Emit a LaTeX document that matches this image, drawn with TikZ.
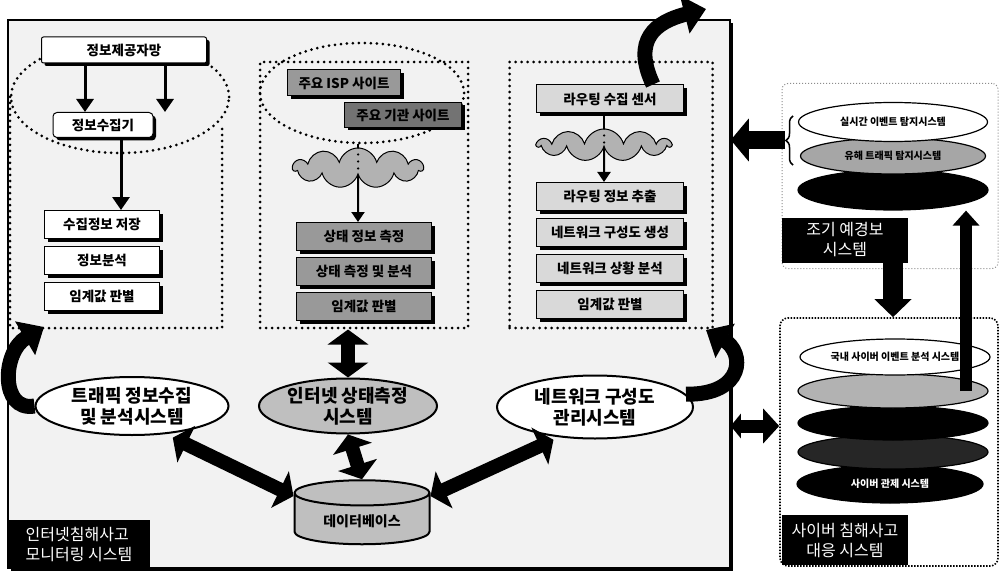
\documentclass[tikz,border=0pt]{standalone}
\usepackage{fontspec}
\setmainfont{Noto Sans CJK KR}
\usetikzlibrary{positioning,shapes.geometric,shapes.symbols,arrows.meta,shadows,decorations.pathreplacing}

\begin{document}
\begin{tikzpicture}[x=1pt, y=-1pt,
  box/.style={
    draw, line width=1pt, fill=white,
    minimum height=28pt, inner sep=1pt,
    font=\fontsize{13.5}{15}\selectfont\bfseries,
    drop shadow={shadow xshift=3pt, shadow yshift=-3pt, fill=black, opacity=1}
  },
  dotbox/.style={draw, line width=3pt, dash pattern=on 0pt off 6pt, line cap=round},
  fog/.style={cloud, cloud puffs=11, aspect=4, draw, line width=1pt, fill=black!30},
  sysell/.style={ellipse, draw, line width=2pt, inner sep=0pt, align=center,
    font=\fontsize{18}{21}\selectfont\bfseries},
  stk/.style={ellipse, draw, line width=1.2pt, inner sep=0pt, minimum width=190pt,
    font=\fontsize{10}{12}\selectfont\bfseries},
  lbl/.style={fill=black, text=white, inner sep=3pt, align=left,
    font=\fontsize{16}{20}\selectfont},
  thinarr/.style={line width=3pt, -{Triangle[length=13pt, width=17pt]}},
  midarr/.style={line width=2pt, -{Triangle[length=10pt, width=13pt]}},
  dblk/.style={line width=14pt, {Triangle[length=15pt, width=40pt]}-{Triangle[length=15pt, width=40pt]}},
  curv/.style={line width=15pt, -{Triangle[length=22pt, width=38pt]}}
]
\useasboundingbox (0,0) rectangle (1000,572);

% --- 모니터링 시스템 틀 ---
\node[draw, line width=1.5pt, fill=black!5, minimum width=722pt, minimum height=548pt,
  drop shadow={shadow xshift=3pt, shadow yshift=-3pt, fill=black, opacity=1}] (mon) at (369,294) {};
\node[lbl, minimum width=142pt, minimum height=48pt] (monlbl) at (79,544) {인터넷침해사고\\모니터링 시스템};

% --- 트래픽 정보수집 ---
\draw[dotbox] (10,97) -- (10,328) -- (222,328) -- (222,128);
\node[dotbox, ellipse, minimum width=218pt, minimum height=112pt] (lell) at (120,97) {};
\node[box, rounded corners=2pt, minimum width=165pt, minimum height=26pt] (src) at (124,50) {정보제공자망};
\node[box, rounded corners=4pt, minimum width=100pt, minimum height=25pt] (col) at (103,125) {정보수집기};

\foreach \t [count=\i] in {수집정보 저장,정보분석,임계값 판별} {
  \ifnum\i=1
    \node[box, minimum width=115pt, anchor=north] (a\i) at (102,210) {\t};
  \else
    \node[box, minimum width=115pt, below=7pt of a\the\numexpr\i-1\relax] (a\i) {\t};
  \fi
}

\coordinate (p1) at (85,0);
\coordinate (p2) at (165,0);
\coordinate (p3) at (121,0);
\draw[thinarr] (src.south -| p1) -- (col.north -| p1);
\draw[thinarr] (src.south -| p2) -- (col.north -| p2);
\draw[thinarr] (col.south -| p3) -- (a1.north -| p3);

% --- 인터넷 상태측정 ---
\node[dotbox, minimum width=208pt, minimum height=266pt] (midbox) at (364,195) {};
\node[dotbox, ellipse, minimum width=204pt, minimum height=100pt] (mell) at (362,93) {};
\node[box, fill=black!40, minimum width=113pt, minimum height=26pt] (m1) at (344,83) {주요 ISP 사이트};
\node[box, fill=black!55, minimum width=117pt, minimum height=25pt] (m2) at (403,115) {주요 기관 사이트};
\node[fog, minimum width=130pt, minimum height=40pt] (c1) at (358,168) {};

\foreach \t [count=\i] in {상태 정보 측정,상태 측정 및 분석,임계값 판별} {
  \ifnum\i=1
    \node[box, fill=black!40, minimum width=135pt, anchor=north] (m3) at (364,222) {\t};
  \else
    \node[box, fill=black!40, minimum width=135pt, below=6pt of m\the\numexpr\i+1\relax] (m\the\numexpr\i+2\relax) {\t};
  \fi
}

\draw[line width=2pt] (mell.south -| c1) -- (c1.north);
\draw[line width=2.5pt, dash pattern=on 0pt off 7pt, line cap=round] (c1.north) -- (c1.south);
\draw[midarr] (c1.south) -- (m3.north -| c1);

% --- 네트워크 구성도 ---
\node[dotbox, minimum width=203pt, minimum height=266pt] (rbox) at (611,195) {};
\node[box, fill=black!15, minimum width=147pt] (r1) at (610,99) {라우팅 수집 센서};
\node[fog, minimum width=133pt, minimum height=32pt] (c2) at (604,145) {};

\foreach \t [count=\i] in {라우팅 정보 추출,네트워크 구성도 생성,네트워크 상황 분석,임계값 판별} {
  \ifnum\i=1
    \node[box, fill=black!15, minimum width=147pt, anchor=north] (r2) at (610,182) {\t};
  \else
    \node[box, fill=black!15, minimum width=147pt, below=7pt of r\i] (r\the\numexpr\i+1\relax) {\t};
  \fi
}

\draw[line width=2pt] (r1.south -| c2) -- (c2.north);
\draw[line width=2.5pt, dash pattern=on 0pt off 7pt, line cap=round] (c2.north) -- (c2.south);
\draw[midarr] (c2.south) -- (r2.north -| c2);

\coordinate (tout) at (706,9);
\draw[curv] ([xshift=43pt]r1.north) .. controls (632,40) and (655,22) .. (tout);

% --- 시스템 ---
\node[sysell, fill=white, minimum width=193pt, minimum height=58pt] (e1) at (132,406) {트래픽 정보수집\\및 분석시스템};
\node[sysell, fill=black!25, minimum width=178pt, minimum height=55pt] (e2) at (348,406) {인터넷 상태측정\\시스템};
\node[sysell, fill=white, minimum width=196pt, minimum height=63pt] (e3) at (595,407) {네트워크 구성도\\관리시스템};
\node[cylinder, shape border rotate=90, aspect=0.3, draw, line width=2pt, fill=black!25,
  minimum width=135pt, minimum height=64pt, font=\fontsize{14}{16}\selectfont\bfseries] (db) at (362,521) {데이터베이스};

\coordinate (lin) at (44,327);
\coordinate (rin) at (706,330);
\draw[curv] (e1.west) .. controls (0,412) and (2,352) .. (lin);
\draw[curv] (e3.8) .. controls (745,395) and (745,352) .. (rin);

\draw[dblk] (e2.north |- midbox.south) -- (e2.north);
\draw[dblk] (e2.south) -- (db.north);
\draw[dblk, shorten <=8pt] (e1.-40) -- (db.160);
\draw[dblk, shorten <=6pt] (e3.-140) -- (db.20);

% --- 조기 예경보 ---
\node[draw, black!45, line width=1pt, dash pattern=on 1pt off 2pt, rounded corners=6pt,
  minimum width=216pt, minimum height=185pt] (ewbox) at (890,176) {};
\node[stk, fill=black, minimum height=40pt] (h3) at (893,190) {};
\node[stk, fill=black!35, minimum width=185pt, minimum height=36pt] (h2) at (893,156) {유해 트래픽 탐지시스템};
\node[stk, fill=white, minimum width=189pt, minimum height=39pt] (h1) at (893,122) {실시간 이벤트 탐지시스템};
\draw[decorate, decoration={brace, amplitude=7pt}, line width=1.5pt] (793,165) -- (793,116);
\node[lbl, align=center, minimum width=126pt, minimum height=45pt] (ewlbl) at (845,240) {조기 예경보\\시스템};

\coordinate (bt) at (785,140);
\draw[line width=18pt, -{Triangle[length=18pt, width=42pt]}] (bt) -- (mon.east |- bt);

% --- 침해사고 대응 ---
\node[draw, line width=1.6pt, dash pattern=on 1.5pt off 1.5pt, rounded corners=8pt,
  minimum width=218pt, minimum height=248pt] (irbox) at (889,442) {};
\node[stk, fill=black, minimum width=186pt, minimum height=38pt, text=white] (l5) at (890,484) {사이버 관제 시스템};
\node[stk, fill=black!85, minimum height=34pt] (l4) at (893,452) {};
\node[stk, fill=black, minimum height=34pt] (l3) at (893,423) {};
\node[stk, fill=black!30, minimum height=34pt] (l2) at (893,391) {};
\node[stk, fill=white, minimum height=36pt] (l1) at (895,357) {국내 사이버 이벤트 분석 시스템};
\node[lbl, align=center, minimum width=126pt, minimum height=50pt] (irlbl) at (845,540) {사이버 침해사고\\대응 시스템};

\coordinate (dn) at (893,0);
\coordinate (up) at (966,0);
\coordinate (sd) at (0,426);
\draw[line width=20pt, -{Triangle[length=18pt, width=36pt]}] (ewlbl.south -| dn) -- (irbox.north -| dn);
\draw[line width=12pt, -{Triangle[length=15pt, width=26pt]}] (l2.center -| up) -- (h3.south -| up);
\draw[line width=13pt, {Triangle[length=10pt, width=24pt]}-{Triangle[length=16pt, width=34pt]}] (mon.east |- sd) -- (irbox.west |- sd);

\end{tikzpicture}
\end{document}
